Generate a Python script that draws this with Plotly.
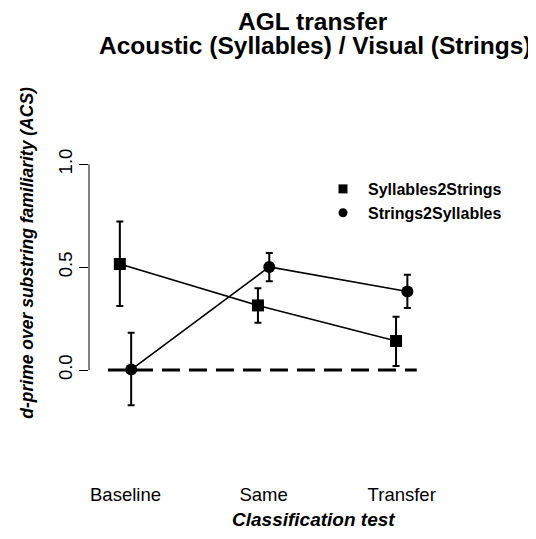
import plotly.graph_objects as go

categories = ["Baseline", "Same", "Transfer"]
cat_pos = [1, 2, 3]

syl2str_name = "Syllables2Strings"
syl2str_vals = [0.515, 0.314, 0.141]
syl2str_hi = [0.722, 0.398, 0.259]
syl2str_lo = [0.311, 0.230, 0.019]

str2syl_name = "Strings2Syllables"
str2syl_vals = [0.002, 0.501, 0.382]
str2syl_hi = [0.181, 0.569, 0.463]
str2syl_lo = [-0.171, 0.432, 0.302]

ytick_vals = [0.0, 0.5, 1.0]
ytick_text = ["0.0", "0.5", "1.0"]

ref_x = [0.873, 3.109]
ref_y = [0.0, 0.0]

offset = 0.041
FONT = "Liberation Sans, Arial, Helvetica, sans-serif"

# page body has an 8px margin; work in reference pixel coords minus OFF
OFF = 8
W, H = 536 - OFF, 539 - OFF
L, R, T, B = 89 - OFF, 22, 100 - OFF, 109 - OFF
kx = 138.1
x0 = 1 - (125.5 - OFF - L) / kx
x1 = x0 + (W - L - R) / kx
ky = 205.7
y1 = (370 - OFF - T) / ky
y0 = y1 - (H - T - B) / ky


def px_x(px):
    return (px - OFF - L) / (W - L - R)


def px_y(py):
    return (H - B - (py - OFF)) / (H - T - B)


fig = go.Figure()

fig.add_trace(go.Scatter(
    x=ref_x, y=ref_y, mode="lines",
    line=dict(color="black", width=3, dash="18px,9px"),
    showlegend=False, hoverinfo="skip"))


def add_series(vals, hi, lo, shift, symbol, name):
    xs = [c + shift for c in cat_pos]
    fig.add_trace(go.Scatter(
        x=xs, y=vals, mode="lines+markers",
        line=dict(color="black", width=1.6),
        marker=dict(symbol=symbol, size=12, color="black"),
        error_y=dict(type="data", symmetric=False,
                     array=[h - v for h, v in zip(hi, vals)],
                     arrayminus=[v - l for v, l in zip(vals, lo)],
                     color="black", thickness=2, width=3.5),
        showlegend=False, cliponaxis=False))
    fig.add_trace(go.Scatter(
        x=[None], y=[None], mode="markers", name=name,
        marker=dict(symbol=symbol, size=9, color="black")))


add_series(syl2str_vals, syl2str_hi, syl2str_lo, -offset, "square", syl2str_name)
add_series(str2syl_vals, str2syl_hi, str2syl_lo, offset, "circle", str2syl_name)

# y axis line spanning only the tick range (R style)
fig.add_shape(type="line", xref="paper", yref="y", x0=0, x1=0, y0=0, y1=1,
              line=dict(color="black", width=1))

fig.update_layout(
    width=W, height=H,
    margin=dict(l=L, r=R, t=T, b=B),
    paper_bgcolor="white", plot_bgcolor="white",
    font=dict(family=FONT, color="black", size=18),
    xaxis=dict(range=[x0, x1], showgrid=False, zeroline=False, showline=False,
               tickvals=cat_pos, ticktext=categories, ticks="",
               tickfont=dict(size=18.5), ticklabelstandoff=43),
    yaxis=dict(range=[y0, y1], showgrid=False, zeroline=False, showline=False,
               tickvals=ytick_vals, ticktext=ytick_text, ticks="outside",
               ticklen=9, tickwidth=1, tickcolor="black", tickangle=-90,
               tickfont=dict(size=18.5), ticklabelstandoff=0),
    legend=dict(x=px_x(318), y=px_y(172),
                xanchor="left", yanchor="top", itemwidth=40,
                font=dict(size=16, family=FONT, weight="bold"),
                bgcolor="rgba(0,0,0,0)", tracegroupgap=0),
    showlegend=True,
)

fig.add_annotation(text="AGL transfer", x=px_x(312.5), y=px_y(22),
                   xref="paper", yref="paper", showarrow=False,
                   xanchor="center", yanchor="middle",
                   font=dict(size=24.5, weight="bold"))
fig.add_annotation(text="Acoustic (Syllables) / Visual (Strings)", x=px_x(315.5), y=px_y(45.5),
                   xref="paper", yref="paper", showarrow=False,
                   xanchor="center", yanchor="middle",
                   font=dict(size=24.5, weight="bold"))
fig.add_annotation(text="<i>Classification test</i>", x=px_x(313), y=px_y(520),
                   xref="paper", yref="paper", showarrow=False,
                   xanchor="center", yanchor="middle",
                   font=dict(size=19, weight="bold"))
fig.add_annotation(text="<i>d-prime over substring familiarity (ACS)</i>", x=px_x(27), y=px_y(252.7),
                   xref="paper", yref="paper", showarrow=False, textangle=-90,
                   xanchor="center", yanchor="middle",
                   font=dict(size=17.5, weight="bold"))

fig.write_html("out.html")
